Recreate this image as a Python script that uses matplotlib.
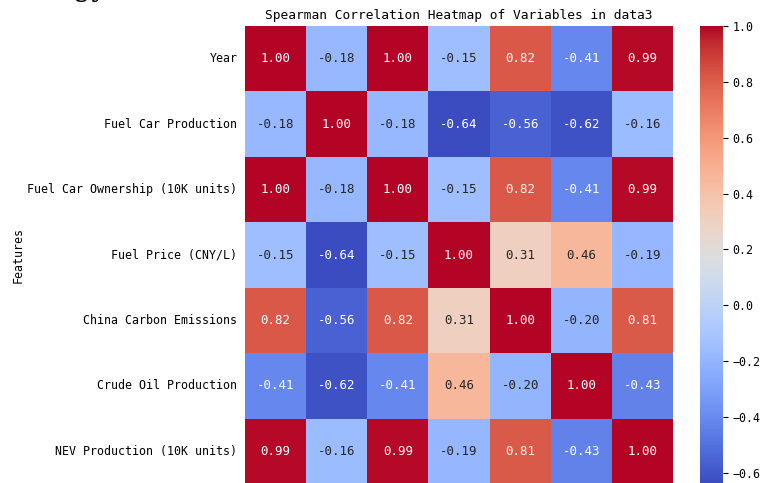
import numpy as np
import matplotlib
matplotlib.use("Agg")
import matplotlib.pyplot as plt
import seaborn as sns

# feature names (rows and columns of the correlation matrix)
features = ["Year", "Fuel Car Production", "Fuel Car Ownership (10K units)",
            "Fuel Price (CNY/L)", "China Carbon Emissions",
            "Crude Oil Production", "NEV Production (10K units)"]

# spearman correlations, read row by row
row_year = [1.00, -0.18, 1.00, -0.15, 0.82, -0.41, 0.99]
row_fuel_prod = [-0.18, 1.00, -0.18, -0.64, -0.56, -0.62, -0.16]
row_fuel_own = [1.00, -0.18, 1.00, -0.15, 0.82, -0.41, 0.99]
row_price = [-0.15, -0.64, -0.15, 1.00, 0.31, 0.46, -0.19]
row_carbon = [0.82, -0.56, 0.82, 0.31, 1.00, -0.20, 0.81]
row_crude = [-0.41, -0.62, -0.41, 0.46, -0.20, 1.00, -0.43]
row_nev = [0.99, -0.16, 0.99, -0.19, 0.81, -0.43, 1.00]

corr = np.array([row_year, row_fuel_prod, row_fuel_own, row_price,
                 row_carbon, row_crude, row_nev])

plt.rcParams['font.family'] = ['DejaVu Sans Mono', 'DejaVu Sans']

fig = plt.figure(figsize=(7.6, 4.83), dpi=100)
# the reference is a crop, the heatmap runs down to the bottom edge
ax = fig.add_axes([245/760, -0.002, 428/760, 0.948])
cax = fig.add_axes([700/760, -0.002, 23/760, 0.948])

sns.heatmap(corr, annot=True, fmt=".2f", cmap="coolwarm", ax=ax, cbar_ax=cax,
            annot_kws={"fontsize": 9})

ax.set_yticklabels(features, rotation=0, fontsize=8.4)
ax.tick_params(axis="y", length=0, pad=5.5)
ax.set_xticks([])
ax.set_title("Spearman Correlation Heatmap of Variables in data3", fontsize=9.3, pad=5)
ax.set_ylabel("Features", fontsize=8.4)
ax.yaxis.set_label_coords(-0.515, 0.5)
cax.tick_params(labelsize=8.4)

# leftover bit of text from the cropped page above
fig.text(108/760, 1.0 + 4/483, "ogy", family="DejaVu Serif", fontsize=20,
         ha="right", va="baseline")

fig.savefig("out.png", dpi=100)
